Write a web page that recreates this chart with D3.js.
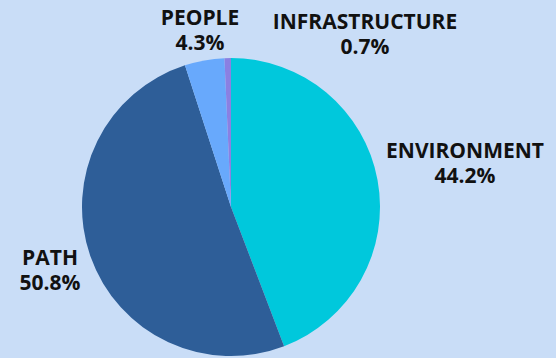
<!DOCTYPE html>
<html>
<head>
<meta charset="utf-8">
<script src="https://cdn.jsdelivr.net/npm/d3@7"></script>
<style>
  html,body{margin:0;padding:0;background:#c9ddf7;}
  svg{display:block;}
  .lbl{font-family:"Open Sans",sans-serif;font-weight:700;font-size:21px;fill:#111;}
</style>
</head>
<body>
<svg id="chart"></svg>
<script>
const width=556, height=358

// data
const categories=["ENVIRONMENT","PATH","PEOPLE","INFRASTRUCTURE"]
const values=[44.2,50.8,4.3,0.7]
const colors=["#00c8dc","#2e5e98","#68a9fc","#8a80e2"]

// label centres (text only)
const labelPos=[[465,151],[50,258],[200,18],[365,22]]

const svg=d3.select("#chart").attr("width",width).attr("height",height)

svg.append("rect").attr("width",width).attr("height",height).attr("fill","#c9ddf7")

const cx=231, cy=207, r=149

const pie=d3.pie().sort(null).value(d=>d)
const arc=d3.arc().innerRadius(0).outerRadius(r)

const g=svg.append("g").attr("transform","translate("+cx+","+cy+")")

g.selectAll("path")
 .data(pie(values))
 .enter()
 .append("path")
 .attr("d",arc)
 .attr("fill",(d,i)=>colors[i])

const labels=svg.append("g")
  .selectAll("text")
  .data(categories)
  .enter()
  .append("text")
  .attr("class","lbl")
  .attr("text-anchor","middle")
  .attr("x",(d,i)=>labelPos[i][0])
  .attr("y",(d,i)=>labelPos[i][1])

labels.append("tspan").attr("x",(d,i)=>labelPos[i][0]).attr("dy","0.35em").text(d=>d)
labels.append("tspan").attr("x",(d,i)=>labelPos[i][0]).attr("dy","1.15em").text((d,i)=>values[i].toFixed(1)+"%")
</script>
</body>
</html>
